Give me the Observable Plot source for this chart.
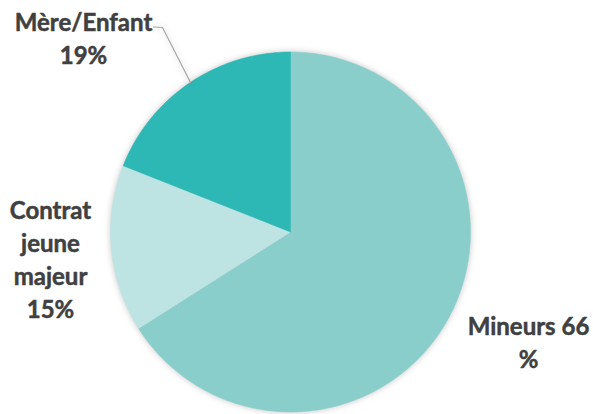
<!DOCTYPE html>
<html><head><meta charset="utf-8">
<script src="https://cdn.jsdelivr.net/npm/d3@7"></script>
<script src="https://cdn.jsdelivr.net/npm/@observablehq/plot@0.6"></script>
<style>
html,body{margin:0;padding:0;background:#fff;}
#chart svg g[aria-label="line"]{filter:drop-shadow(0px 0px 3px rgba(0,0,0,0.22));}
</style>
</head><body><div id="chart"></div>
<script>
const categories = ["Mineurs", "Contrat jeune majeur", "Mère/Enfant"];
const values = [66, 15, 19];
const labels = ["Mineurs 66\n%", "Contrat\njeune\nmajeur\n15%", "Mère/Enfant\n19%"];
const colors = ["#8ACECB", "#BEE3E3", "#2DB7B5"];

const W = 593, H = 414;
const cx = 290, cy = 231.5, R = 180;

const arcs = d3.pie().sort(null).value(d => d)(values);
const pts = [];
arcs.forEach((a, i) => {
  pts.push({name: categories[i], x: cx, y: cy});
  const n = Math.max(8, Math.ceil((a.endAngle - a.startAngle) * 60));
  for (let k = 0; k <= n; k++) {
    const t = a.startAngle + (a.endAngle - a.startAngle) * k / n;
    pts.push({name: categories[i], x: cx + R * Math.sin(t), y: cy - R * Math.cos(t)});
  }
  pts.push({name: categories[i], x: cx, y: cy});
});

const labelPos = [
  {x: 528, y: 340.5},
  {x: 50, y: 257},
  {x: 83, y: 36}
];
const labelData = labels.map((t, i) => ({text: t, ...labelPos[i]}));

const leader = [{x: 153, y: 26.5}, {x: 162, y: 27}, {x: 190, y: 82}];

const plot = Plot.plot({
  width: W, height: H, margin: 0,
  x: {domain: [0, W], range: [0, W], axis: null},
  y: {domain: [0, H], range: [0, H], axis: null},
  color: {domain: categories, range: colors},
  style: {background: "#fff"},
  marks: [
    Plot.line(pts, {x: "x", y: "y", z: "name", fill: "name", stroke: "name", strokeWidth: 0.5, curve: "linear"}),
    Plot.line(leader, {x: "x", y: "y", stroke: "#A6A6A6", strokeWidth: 1.2}),
    Plot.text(labelData, {x: "x", y: "y", text: "text", fill: "#404040", stroke: "#404040", strokeWidth: 0.5, fontSize: 24, fontWeight: "bold", fontFamily: "Lato", lineHeight: 1.375, textAnchor: "middle", lineAnchor: "middle"})
  ]
});
document.getElementById("chart").appendChild(plot);
</script>
</body></html>
